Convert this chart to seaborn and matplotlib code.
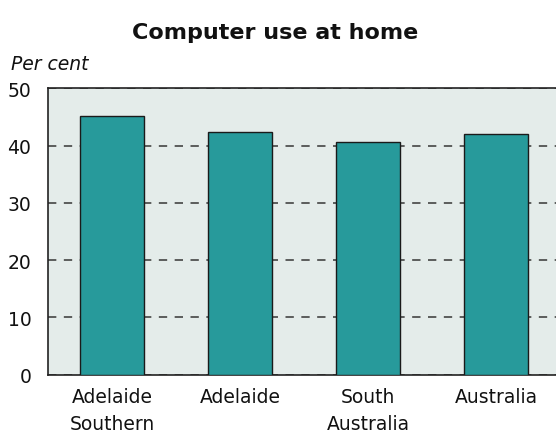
import pandas as pd
import matplotlib
matplotlib.use("Agg")
import matplotlib.pyplot as plt
import seaborn as sns

# Data
regions = ["Adelaide\nSouthern", "Adelaide", "South\nAustralia", "Australia"]
computer_use = [45.1, 42.3, 40.7, 42.0]

df = pd.DataFrame({"region": regions, "pct": computer_use})

sns.set_style("white")
plt.rcParams["font.family"] = ["DejaVu Sans"]

fig = plt.figure(figsize=(5.56, 4.39), dpi=100)
ax = fig.add_axes([0.0863, 0.1442, 0.9209, 0.6522])
ax.set_facecolor("#e4ecea")

sns.barplot(data=df, x="region", y="pct", color="#279a9b", saturation=1,
            width=0.5, edgecolor="#1a1a1a", linewidth=1.0, ax=ax, zorder=3)

ax.set_ylim(0, 50)
ax.set_xlim(-0.5, 3.5)
ax.set_yticks([0, 10, 20, 30, 40, 50])
ax.yaxis.grid(True, linestyle=(0, (5, 4.5)), color="#444444", linewidth=1.2, zorder=1)
ax.set_axisbelow(True)
ax.tick_params(axis="both", length=0, colors="#111111")
ax.tick_params(axis="x", pad=9, labelsize=13.5)
ax.tick_params(axis="y", pad=12, labelsize=13.5)
for lbl in ax.get_xticklabels():
    lbl.set_linespacing(1.5)
ax.set_xlabel("")
ax.set_ylabel("")

for side in ["left", "bottom", "top", "right"]:
    ax.spines[side].set_visible(True)
    ax.spines[side].set_color("#222222")
    ax.spines[side].set_linewidth(1.2)

fig.text(0.495, 0.925, "Computer use at home", ha="center", va="center",
         fontsize=16, fontweight="bold", color="#111111")
fig.text(0.02, 0.852, "Per cent", ha="left", va="center",
         fontsize=13.5, style="italic", color="#111111")

fig.savefig("out.png", dpi=100)
